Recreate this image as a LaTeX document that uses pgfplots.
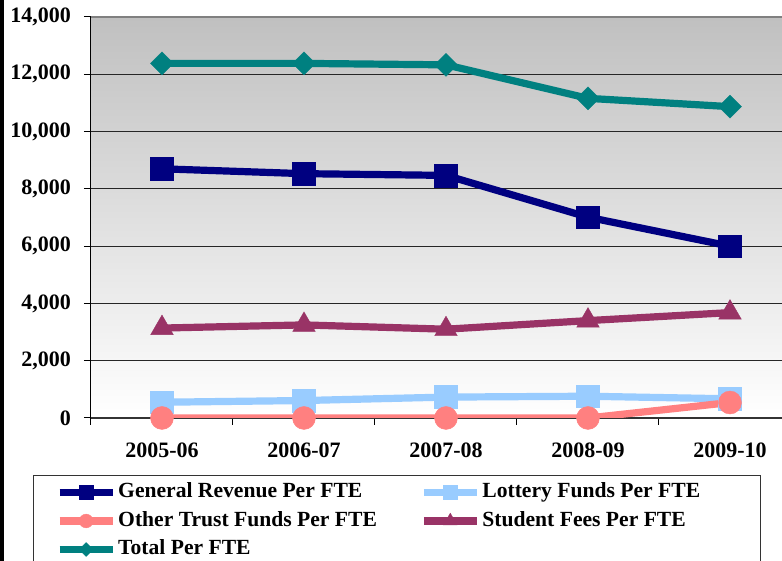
\documentclass[border=0pt]{standalone}
\usepackage{fontspec}
\setmainfont{Liberation Serif}
\usepackage{pgfplots}
\pgfplotsset{compat=1.18}

\definecolor{cnavy}{RGB}{0,0,128}
\definecolor{clott}{RGB}{153,204,255}
\definecolor{ctrust}{RGB}{255,128,128}
\definecolor{cfees}{RGB}{153,51,102}
\definecolor{ctotal}{RGB}{0,128,128}
\definecolor{bgtop}{RGB}{192,192,192}

\begin{document}
\begin{tikzpicture}
\begin{axis}[
    scale only axis,
    width=355pt, height=200.5pt,
    xmin=-0.5, xmax=4.5,
    ymin=0, ymax=14000,
    axis x line*=bottom, axis y line*=left,
    x axis line style={line width=1pt, black!80},
    y axis line style={line width=0.5pt, black},
    tick align=outside,
    major tick length=3.5pt,
    tick style={black, line width=0.5pt},
    xtick={-0.5,0.5,1.5,2.5,3.5},
    xticklabels={},
    extra x ticks={0,1,2,3,4},
    extra x tick labels={2005-06,2006-07,2007-08,2008-09,2009-10},
    extra x tick style={major tick length=0pt, grid=none},
    ytick={0,2000,4000,6000,8000,10000,12000,14000},
    scaled y ticks=false,
    ymajorgrids=true,
    grid style={black!85, line width=0.6pt},
    ticklabel style={font=\fontsize{11}{13}\selectfont\bfseries},
    xticklabel style={yshift=-9pt},
    yticklabel style={xshift=-3pt},
    /pgf/number format/.cd, 1000 sep={,}, fixed, assume math mode=true,
    /pgfplots/.cd,
    axis background/.style={top color=bgtop, bottom color=white},
    legend columns=2,
    legend cell align=left,
    legend style={draw=none, fill=none, at={(0,0)}, anchor=north west,
        xshift=-17.5pt, yshift=-31pt, inner sep=0pt, outer sep=0pt,
        column sep=0pt, row sep=1.75pt,
        font=\fontsize{10.8}{13}\selectfont\bfseries,
        nodes={inner sep=1pt, text height=8pt, text depth=2.5pt}},
    legend image code/.code={
        \draw[#1, mark=none] (0pt,0pt) -- (26.5pt,0pt);
        \draw[#1, only marks, every mark/.append style={scale=0.6}] plot coordinates {(13.25pt,0pt)};
    },
]
\draw[gray, line width=1pt] (rel axis cs:0,1) -- (rel axis cs:1,1);

\addplot[color=cnavy, line width=3.6pt, mark=square*, mark size=5.7pt,
    mark options={solid, line width=0.2pt}]
    coordinates {(0,8700)(1,8530)(2,8470)(3,7010)(4,6000)};
\addlegendentry{\makebox[150pt][l]{General Revenue Per FTE}}

\addplot[color=clott, line width=3.6pt, mark=square*, mark size=5.7pt,
    mark options={solid, line width=0.2pt}]
    coordinates {(0,550)(1,610)(2,730)(3,760)(4,670)};
\addlegendentry{Lottery Funds Per FTE}

\addplot[color=ctrust, line width=3.6pt, mark=*, mark size=5.75pt,
    mark options={solid, line width=0.2pt}]
    coordinates {(0,0)(1,0)(2,0)(3,0)(4,540)};
\addlegendentry{\makebox[150pt][l]{Other Trust Funds Per FTE}}

\addplot[color=cfees, line width=3.6pt, mark=triangle*, mark size=6.5pt,
    mark options={solid, line width=0.2pt}]
    coordinates {(0,3140)(1,3250)(2,3100)(3,3400)(4,3680)};
\addlegendentry{Student Fees Per FTE}

\addplot[color=ctotal, line width=3.6pt, mark=square*, mark size=4.07pt,
    mark options={solid, line width=0.2pt, rotate=45}]
    coordinates {(0,12380)(1,12380)(2,12330)(3,11160)(4,10870)};
\addlegendentry{\makebox[150pt][l]{Total Per FTE}}
\end{axis}
% frame pieces of the original chart area
\fill[black] (-45.5pt,-71.5pt) rectangle (-43.5pt,209pt);
\draw[black!80, line width=0.5pt] (-28.5pt,-80pt) rectangle (334.5pt,-29pt);
\pgfresetboundingbox
\path[use as bounding box] (-45.5pt,-71.5pt) rectangle (345.5pt,209pt);
\end{tikzpicture}
\end{document}
